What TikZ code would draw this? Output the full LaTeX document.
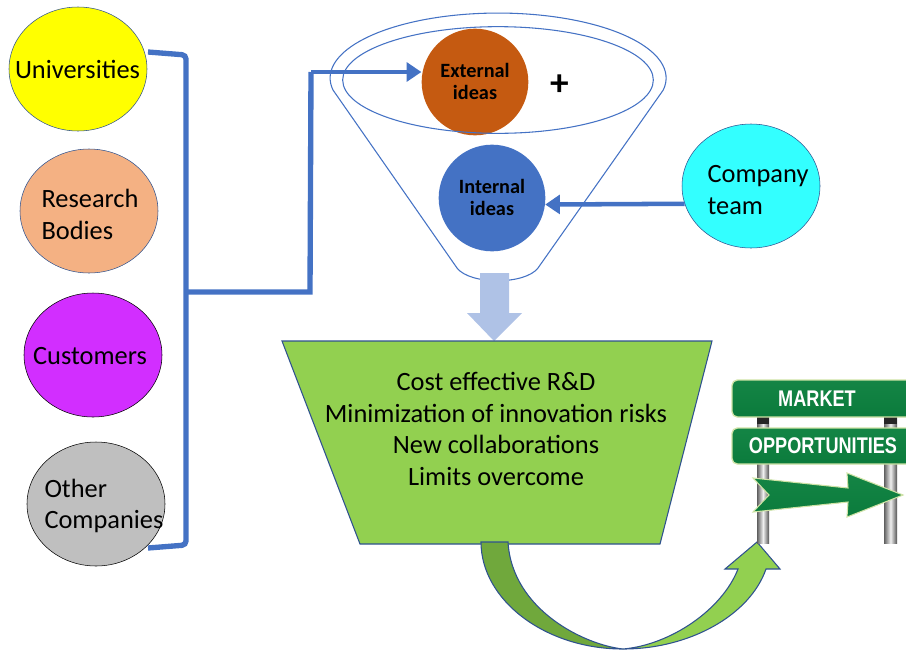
\documentclass[tikz,border=0pt]{standalone}
\usepackage{fontspec}
\setmainfont{Carlito}
\newfontfamily\signfont{Liberation Sans}
\usepackage{tikz}
\usetikzlibrary{shapes.geometric,arrows.meta}
\definecolor{linkblue}{HTML}{4472C4}
\definecolor{edgeblue}{HTML}{2F528F}
\definecolor{benefitgreen}{HTML}{92D050}
\definecolor{curvegreen}{HTML}{70A83C}
\definecolor{signgreen}{HTML}{0B7B3C}
\definecolor{signtop}{HTML}{148545}
\definecolor{signrim}{HTML}{CFE3A6}
\definecolor{univfill}{HTML}{FFFF00}
\tikzset{
  bubble/.style={ellipse,draw=edgeblue,minimum width=103.5pt,minimum height=93pt,inner sep=0},
  idea/.style={circle,minimum size=80pt,inner sep=0},
  big/.style={font=\fontsize{19.8}{23.5}\selectfont,align=left,inner sep=0},
  small/.style={font=\fontsize{15.2}{16.5}\selectfont\bfseries,align=center,inner sep=0},
  link/.style={draw=linkblue,line width=4pt,rounded corners=3pt},
  feed/.style={draw=linkblue,line width=3.4pt,-{Triangle[length=11pt,width=14pt]}},
  funnel/.style={draw=linkblue,line width=.8pt},
  post/.style={left color=gray!75!black,right color=gray!65!black,middle color=gray!12},
  signbox/.style={draw=signrim,line width=1pt,rounded corners=4pt,top color=signtop,bottom color=signgreen},
  signtext/.style={text=white,font=\signfont\fontsize{17}{19}\selectfont\bfseries,inner sep=0}
}
\begin{document}
\begin{tikzpicture}[x=.75pt,y=-.75pt]
\useasboundingbox (0,0) rectangle (906,650);
\clip (0,0) rectangle (906,650);
% sources on the left
\node[bubble,fill=univfill] (univ) at (78,69) {};
\node[bubble,fill={rgb,255:red,244;green,177;blue,131}] (research) at (89,211) {};
\node[bubble,draw=black,fill={rgb,255:red,210;green,46;blue,255}] (cust) at (93,355) {};
\node[bubble,draw=black,fill={rgb,255:red,191;green,191;blue,191}] (other) at (96,504) {};
\node[big] (univtxt) at (77.5,69.5) {Universities};
\node[big] (restxt) at (90,214.5) {Research\\Bodies};
\node[big] (custtxt) at (90,356.5) {Customers};
\node[big] (othertxt) at (104,506) {Other\\Companies};
% funnel
\draw[funnel] (333,90) arc[start angle=169.4,end angle=370.6,x radius=168,y radius=65]
  -- (538,268) .. controls (525,285) and (470,285) .. (457,268) -- cycle;
% ideas
\node[idea,fill={rgb,255:red,197;green,90;blue,17}] (ext) at (475,82) {};
\node[idea,fill=linkblue] (int) at (492,198) {};
\node[small] (exttxt) at (475,81.5) {External\\ideas};
\node[small] (inttxt) at (492,197.5) {Internal\\ideas};
\node[funnel,ellipse,minimum width=233pt,minimum height=80pt,inner sep=0] (rim) at (498,80) {};
\node[font=\fontsize{28}{30}\selectfont\bfseries,inner sep=0] (plus) at (560,85) {+};
\node[bubble,fill={rgb,255:red,51;green,255;blue,255}] (team) at (751,186) {};
\node[big] (teamtxt) at (758,190) {Company\\team};
% bracket and feeds
\coordinate (bracktop) at (148,52);
\coordinate (brackbot) at (148,548);
\coordinate (brackmid) at (186,292);
\coordinate (elbow) at (310,292);
\coordinate (extin) at (311,72);
\draw[link] (bracktop) -- (186,55) -- (186,545) -- (brackbot);
\draw[link,rounded corners=0pt] (brackmid) -- (elbow) -- (extin);
\draw[feed] (extin) -- (ext.west |- extin);
\draw[feed] (team.195) -- (int.-7);
% down arrow
\fill[linkblue!43!white] (480,273) -- (509,273) -- (509,313) -- (522,313) -- (494,341)
  -- (467,313) -- (480,313) -- cycle;
% benefits
\draw[draw=edgeblue,line width=.8pt,fill=benefitgreen] (282,341) -- (712,341) -- (660,544) -- (360,544) -- cycle;
\node[font=\fontsize{19.8}{23.8}\selectfont,align=center,inner sep=0] (benefittxt) at (496,429)
  {Cost effective R\&D\\Minimization of innovation risks\\New collaborations\\Limits overcome};
% curved arrow
\draw[draw=edgeblue,line width=.8pt,fill=curvegreen] (481,542) .. controls (481,600) and (545,649) .. (623,649)
  .. controls (585,645) and (512,610) .. (508,542) -- cycle;
\draw[draw=edgeblue,line width=.8pt,fill=benefitgreen] (623,649) .. controls (690,649) and (750,615) .. (766,569)
  -- (780,569) -- (757,542) -- (725,569) -- (738,569) .. controls (722,610) and (670,645) .. (623,649) -- cycle;
% sign
\shade[post] (757,380) rectangle (769,543);
\shade[post] (884,380) rectangle (897,543);
\fill[gray!30!black] (757,417) rectangle (769,424);
\fill[gray!30!black] (884,417) rectangle (897,424);
\draw[signbox] (732,380) rectangle (945,417);
\draw[signbox] (732,428) rectangle (945,464);
\node[signtext] (market) at (817,399) {\scalebox{.8}[1]{MARKET}};
\node[signtext] (opp) at (823,446) {\scalebox{.8}[1]{OPPORTUNITIES}};
\draw[draw=signrim,line width=.8pt,top color=signtop,bottom color=signgreen] (753,478) -- (848,488) -- (847,473) -- (903,495)
  -- (847,517) -- (848,502) -- (753,512) -- (769,495) -- cycle;
\end{tikzpicture}
\end{document}
